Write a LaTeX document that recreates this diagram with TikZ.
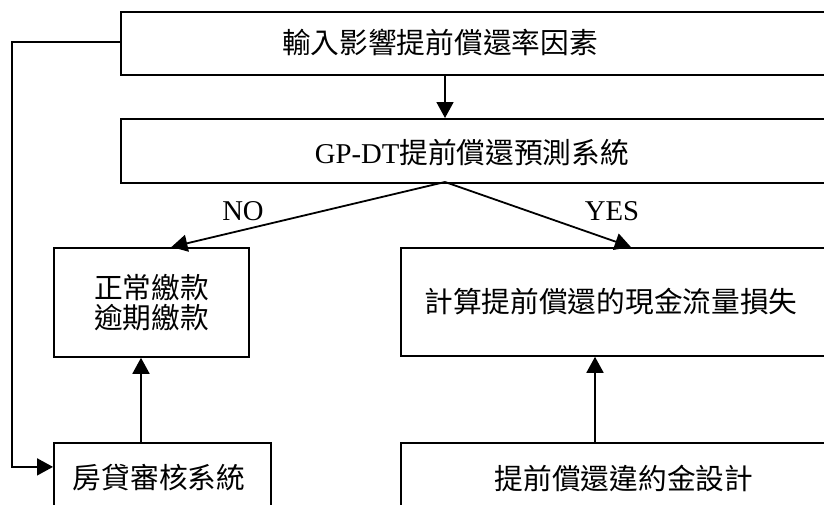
\documentclass[tikz,border=0pt]{standalone}
\usepackage{fontspec}
\setmainfont{Liberation Serif}
\newfontfamily\cjk{Noto Sans CJK TC}
\usetikzlibrary{arrows.meta,positioning}
\tikzset{
  frame/.style={draw, line width=1.8pt, inner sep=0pt, anchor=north west, align=center,
    font=\fontsize{28.7}{30}\selectfont\cjk},
  txt/.style={inner sep=0pt, font=\fontsize{28.7}{30}\selectfont\cjk},
  lbl/.style={inner sep=0pt, font=\fontsize{28.7}{30}\selectfont},
  arr/.style={-{Triangle[length=16pt,width=17pt]}, line width=1.8pt}
}
\begin{document}
\begin{tikzpicture}[x=1pt,y=-1pt]
  \useasboundingbox (0,0) rectangle (824,504);
  \clip (0,0) rectangle (824,504);
  % boxes
  \node[frame, minimum width=760pt, minimum height=63pt] (input) at (120,11) {};
  \node[frame, minimum width=760pt, minimum height=64pt] (gpdt) at (120,118) {};
  \node[frame, minimum width=195pt, minimum height=109pt] (pay) at (53,247) {正常繳款\\逾期繳款};
  \node[frame, minimum width=480pt, minimum height=108pt] (loss) at (400,247) {};
  \node[frame, minimum width=217pt, minimum height=88pt] (audit) at (53,442) {};
  \node[frame, minimum width=480pt, minimum height=88pt] (penalty) at (400,442) {};
  % texts
  \node[txt] (inputtxt) at (440,42) {輸入影響提前償還率因素};
  \node[txt] (gpdttxt) at (472,153) {{\rmfamily GP-DT}提前償還預測系統};
  \node[txt] (losstxt) at (611,302) {計算提前償還的現金流量損失};
  \node[txt] (audittxt) at (159,478) {房貸審核系統};
  \node[txt] (penaltytxt) at (624,478) {提前償還違約金設計};
  \node[lbl] (no) at (243,211) {NO};
  \node[lbl] (yes) at (612,211) {YES};
  % connectors
  \coordinate (split) at (445,182);
  \coordinate (leftup) at (141,0);
  \coordinate (rightup) at (595,0);
  \draw[arr] (input.south -| split) -- (gpdt.north -| split);
  \draw[arr] (split) -- ([xshift=20pt]pay.north);
  \draw[arr] (split) -- ([xshift=-10pt]loss.north);
  \draw[arr] (audit.north -| leftup) -- (pay.south -| leftup);
  \draw[arr] (penalty.north -| rightup) -- (loss.south -| rightup);
  \draw[arr] ([yshift=1.5pt]input.west) -- ++(-108,0) |- ([yshift=20pt]audit.west);
\end{tikzpicture}
\end{document}
